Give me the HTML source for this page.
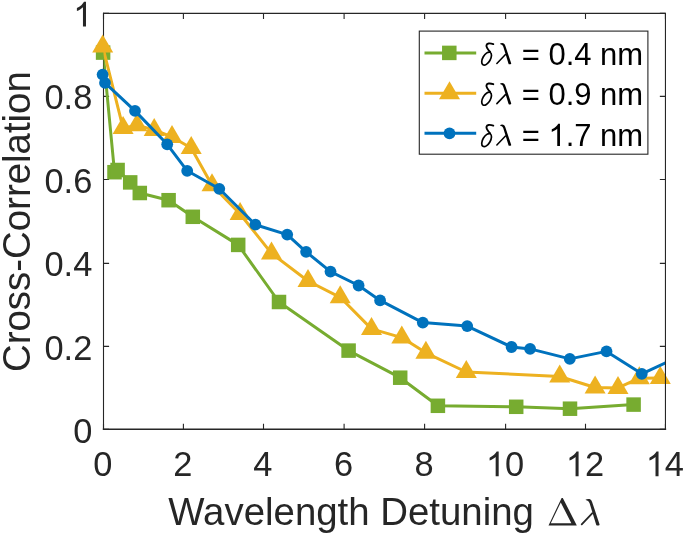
<!DOCTYPE html>
<html><head><meta charset="utf-8"><style>
html,body{margin:0;padding:0;background:#fff;overflow:hidden;}
svg{display:block;will-change:transform;filter:blur(0.3px);}
</style></head><body>
<svg width="685" height="536" viewBox="0 0 685 536" font-family="Liberation Sans, sans-serif">
<rect width="685" height="536" fill="#fff"/>
<defs><clipPath id="c"><rect x="103.5" y="13.4" width="561.95" height="415.9"/></clipPath></defs>
<path d="M103.5,429.3v-5.6M183.4,429.3v-5.6M263.5,429.3v-5.6M344.1,429.3v-5.6M424.6,429.3v-5.6M505.6,429.3v-5.6M585.5,429.3v-5.6M665.45,429.3v-5.6M103.5,429.3h5.6M103.5,346.4h5.6M103.5,263.4h5.6M103.5,179.5h5.6M103.5,96.4h5.6M103.5,13.4h5.6" stroke="#262626" stroke-width="1.1" fill="none"/><path d="M103.5,13.4V429.3" stroke="#262626" stroke-width="1.1" fill="none" stroke-linecap="square"/><path d="M103.5,429.3H665.45" stroke="#262626" stroke-width="1.4" fill="none" stroke-linecap="square"/>
<polyline clip-path="url(#c)" fill="none" stroke-width="3.0" stroke-linejoin="round" points="103.1,52.6 114.5,172.2 117.6,170 130.2,182.4 139.8,193 168.6,200.2 192.8,216.8 238.2,244.9 279,302 348.6,350.6 400.2,377.7 437.9,405.8 516.2,406.8 570,408.7 633.6,404.6" stroke="#77AC30"/>
<rect x="95.85" y="45.35" width="14.5" height="14.5" fill="#77AC30"/>
<rect x="107.25" y="164.95" width="14.5" height="14.5" fill="#77AC30"/>
<rect x="110.35" y="162.75" width="14.5" height="14.5" fill="#77AC30"/>
<rect x="122.95" y="175.15" width="14.5" height="14.5" fill="#77AC30"/>
<rect x="132.55" y="185.75" width="14.5" height="14.5" fill="#77AC30"/>
<rect x="161.35" y="192.95" width="14.5" height="14.5" fill="#77AC30"/>
<rect x="185.55" y="209.55" width="14.5" height="14.5" fill="#77AC30"/>
<rect x="230.95" y="237.65" width="14.5" height="14.5" fill="#77AC30"/>
<rect x="271.75" y="294.75" width="14.5" height="14.5" fill="#77AC30"/>
<rect x="341.35" y="343.35" width="14.5" height="14.5" fill="#77AC30"/>
<rect x="392.95" y="370.45" width="14.5" height="14.5" fill="#77AC30"/>
<rect x="430.65" y="398.55" width="14.5" height="14.5" fill="#77AC30"/>
<rect x="508.95" y="399.55" width="14.5" height="14.5" fill="#77AC30"/>
<rect x="562.75" y="401.45" width="14.5" height="14.5" fill="#77AC30"/>
<rect x="626.35" y="397.35" width="14.5" height="14.5" fill="#77AC30"/>
<polyline clip-path="url(#c)" fill="none" stroke-width="3.0" stroke-linejoin="round" points="102.7,46.6 123.1,128.1 137,125.2 154.2,129.9 172,137 191.2,148 212,185.3 240.1,214 271.5,253.4 308,281 340.2,297.3 371.5,328.9 401.8,337.6 425.9,352.8 466.3,372 559.7,376.5 595.1,387.5 618,387.9 639.3,378.2 660.3,378" stroke="#EDB120"/>
<polygon points="102.7,34.6 92.2,52.6 113.2,52.6" fill="#EDB120"/>
<polygon points="123.1,116.1 112.6,134.1 133.6,134.1" fill="#EDB120"/>
<polygon points="137,113.2 126.5,131.2 147.5,131.2" fill="#EDB120"/>
<polygon points="154.2,117.9 143.7,135.9 164.7,135.9" fill="#EDB120"/>
<polygon points="172,125 161.5,143 182.5,143" fill="#EDB120"/>
<polygon points="191.2,136 180.7,154 201.7,154" fill="#EDB120"/>
<polygon points="212,173.3 201.5,191.3 222.5,191.3" fill="#EDB120"/>
<polygon points="240.1,202 229.6,220 250.6,220" fill="#EDB120"/>
<polygon points="271.5,241.4 261,259.4 282,259.4" fill="#EDB120"/>
<polygon points="308,269 297.5,287 318.5,287" fill="#EDB120"/>
<polygon points="340.2,285.3 329.7,303.3 350.7,303.3" fill="#EDB120"/>
<polygon points="371.5,316.9 361,334.9 382,334.9" fill="#EDB120"/>
<polygon points="401.8,325.6 391.3,343.6 412.3,343.6" fill="#EDB120"/>
<polygon points="425.9,340.8 415.4,358.8 436.4,358.8" fill="#EDB120"/>
<polygon points="466.3,360 455.8,378 476.8,378" fill="#EDB120"/>
<polygon points="559.7,364.5 549.2,382.5 570.2,382.5" fill="#EDB120"/>
<polygon points="595.1,375.5 584.6,393.5 605.6,393.5" fill="#EDB120"/>
<polygon points="618,375.9 607.5,393.9 628.5,393.9" fill="#EDB120"/>
<polygon points="639.3,366.2 628.8,384.2 649.8,384.2" fill="#EDB120"/>
<polygon points="660.3,366 649.8,384 670.8,384" fill="#EDB120"/>
<polyline clip-path="url(#c)" fill="none" stroke-width="3.0" stroke-linejoin="round" points="102.6,74.6 105,82.9 135,110.9 167.2,144.3 187.2,170.8 219.3,188.8 255.4,224.7 287.2,234.6 306.1,251.8 330.5,271.6 358.6,285.5 380.1,300.4 422.8,322.6 467.2,326.1 511.6,347 530.1,348.9 569.8,358.9 606.5,351.4 641.8,373.8 690,351.6" stroke="#0072BD"/>
<circle cx="102.6" cy="74.6" r="5.9" fill="#0072BD"/>
<circle cx="105" cy="82.9" r="5.9" fill="#0072BD"/>
<circle cx="135" cy="110.9" r="5.9" fill="#0072BD"/>
<circle cx="167.2" cy="144.3" r="5.9" fill="#0072BD"/>
<circle cx="187.2" cy="170.8" r="5.9" fill="#0072BD"/>
<circle cx="219.3" cy="188.8" r="5.9" fill="#0072BD"/>
<circle cx="255.4" cy="224.7" r="5.9" fill="#0072BD"/>
<circle cx="287.2" cy="234.6" r="5.9" fill="#0072BD"/>
<circle cx="306.1" cy="251.8" r="5.9" fill="#0072BD"/>
<circle cx="330.5" cy="271.6" r="5.9" fill="#0072BD"/>
<circle cx="358.6" cy="285.5" r="5.9" fill="#0072BD"/>
<circle cx="380.1" cy="300.4" r="5.9" fill="#0072BD"/>
<circle cx="422.8" cy="322.6" r="5.9" fill="#0072BD"/>
<circle cx="467.2" cy="326.1" r="5.9" fill="#0072BD"/>
<circle cx="511.6" cy="347" r="5.9" fill="#0072BD"/>
<circle cx="530.1" cy="348.9" r="5.9" fill="#0072BD"/>
<circle cx="569.8" cy="358.9" r="5.9" fill="#0072BD"/>
<circle cx="606.5" cy="351.4" r="5.9" fill="#0072BD"/>
<circle cx="641.8" cy="373.8" r="5.9" fill="#0072BD"/>
<path d="M103.5,13.4v5.6M183.4,13.4v5.6M263.5,13.4v5.6M344.1,13.4v5.6M424.6,13.4v5.6M505.6,13.4v5.6M585.5,13.4v5.6M665.45,13.4v5.6M665.45,429.3h-5.6M665.45,346.4h-5.6M665.45,263.4h-5.6M665.45,179.5h-5.6M665.45,96.4h-5.6M665.45,13.4h-5.6" stroke="#262626" stroke-width="1.1" fill="none"/><path d="M103.5,13.4H665.45V429.3" stroke="#262626" stroke-width="1.1" fill="none" stroke-linecap="square"/>
<text x="93.33" y="476.2" font-size="34.4" fill="#262626">0</text>
<text x="173.23" y="476.2" font-size="34.4" fill="#262626">2</text>
<text x="253.33" y="476.2" font-size="34.4" fill="#262626">4</text>
<text x="333.93" y="476.2" font-size="34.4" fill="#262626">6</text>
<text x="414.43" y="476.2" font-size="34.4" fill="#262626">8</text>
<path transform="translate(485.87,476.2) scale(0.01680,-0.01680)" d="M763,0L583,0L583,1147Q518,1085 412,1023Q306,961 222,930L222,1104Q373,1175 486,1276Q599,1377 646,1472L763,1472Z" fill="#262626"/>
<text x="505" y="476.2" font-size="34.4" fill="#262626">0</text>
<path transform="translate(565.77,476.2) scale(0.01680,-0.01680)" d="M763,0L583,0L583,1147Q518,1085 412,1023Q306,961 222,930L222,1104Q373,1175 486,1276Q599,1377 646,1472L763,1472Z" fill="#262626"/>
<text x="584.9" y="476.2" font-size="34.4" fill="#262626">2</text>
<path transform="translate(645.72,476.2) scale(0.01680,-0.01680)" d="M763,0L583,0L583,1147Q518,1085 412,1023Q306,961 222,930L222,1104Q373,1175 486,1276Q599,1377 646,1472L763,1472Z" fill="#262626"/>
<text x="664.85" y="476.2" font-size="34.4" fill="#262626">4</text>
<text x="73.17" y="443" font-size="34.4" fill="#262626">0</text>
<text x="44.48" y="359.7" font-size="34.4" fill="#262626">0.2</text>
<text x="44.48" y="275.7" font-size="34.4" fill="#262626">0.4</text>
<text x="44.48" y="192.8" font-size="34.4" fill="#262626">0.6</text>
<text x="44.48" y="108.7" font-size="34.4" fill="#262626">0.8</text>
<path transform="translate(73.17,26.6) scale(0.01680,-0.01680)" d="M763,0L583,0L583,1147Q518,1085 412,1023Q306,961 222,930L222,1104Q373,1175 486,1276Q599,1377 646,1472L763,1472Z" fill="#262626"/>
<text x="168.3" y="525" font-size="38.4" fill="#262626">Wavelength Detuning</text>
<path fill-rule="evenodd" fill="#262626" d="M548.5,525.5L561.6,497.9L562.8,497.9L576.8,525.5ZM550.8,523.2L571.35,523.2L560.75,502.5Z"/>
<path d="M585.5,499.7Q587.4,498.5 589.6,499.1Q591.4,499.8 592.1,501.9L599.6,524.4Q599.6,525.4 598.4,525.4L596.9,525.4Q596.4,525.3 596.2,524.7L589.6,503.3Q588.9,501.2 587.1,500.6Q586.1,500.3 585.5,499.7Z" fill="#262626"/><path d="M592.4,513.2L581.7,524.4" stroke="#262626" stroke-width="1.8" stroke-linecap="round" fill="none"/>
<text transform="translate(29.8,372) rotate(-90)" font-size="38.4" fill="#262626">Cross-Correlation</text>
<rect x="419.3" y="31.1" width="228.6" height="123.1" fill="#fff" stroke="#262626" stroke-width="1.1"/>
<line x1="424.5" y1="52.9" x2="476.2" y2="52.9" stroke="#77AC30" stroke-width="3.0"/>
<rect x="442.05" y="45.65" width="14.5" height="14.5" fill="#77AC30"/>
<g transform="translate(0,0)" fill="none" stroke="#000" stroke-linecap="round"><ellipse cx="486.6" cy="58.6" rx="3.8" ry="7.2" transform="rotate(30 486.6 58.6)" stroke-width="1.7"/><path d="M490.2,51.8C488,49.6 486,47.5 486.5,45.2C487,43.3 489.5,42.8 493.3,44.1" stroke-width="1.9"/></g><g transform="translate(0,0) matrix(0.804,0,0,0.804,29.18,-358.1)"><path d="M585.5,499.7Q587.4,498.5 589.6,499.1Q591.4,499.8 592.1,501.9L599.6,524.4Q599.6,525.4 598.4,525.4L596.9,525.4Q596.4,525.3 596.2,524.7L589.6,503.3Q588.9,501.2 587.1,500.6Q586.1,500.3 585.5,499.7Z" fill="#000"/><path d="M592.4,513.2L581.7,524.4" stroke="#000" stroke-width="1.9" stroke-linecap="round" fill="none"/></g>
<text x="521.7" y="64.5" font-size="31" fill="#000">= 0.4 nm</text>
<line x1="424.5" y1="93.3" x2="476.2" y2="93.3" stroke="#EDB120" stroke-width="3.0"/>
<polygon points="449.5,81.3 439,99.3 460,99.3" fill="#EDB120"/>
<g transform="translate(0,40.1)" fill="none" stroke="#000" stroke-linecap="round"><ellipse cx="486.6" cy="58.6" rx="3.8" ry="7.2" transform="rotate(30 486.6 58.6)" stroke-width="1.7"/><path d="M490.2,51.8C488,49.6 486,47.5 486.5,45.2C487,43.3 489.5,42.8 493.3,44.1" stroke-width="1.9"/></g><g transform="translate(0,40.1) matrix(0.804,0,0,0.804,29.18,-358.1)"><path d="M585.5,499.7Q587.4,498.5 589.6,499.1Q591.4,499.8 592.1,501.9L599.6,524.4Q599.6,525.4 598.4,525.4L596.9,525.4Q596.4,525.3 596.2,524.7L589.6,503.3Q588.9,501.2 587.1,500.6Q586.1,500.3 585.5,499.7Z" fill="#000"/><path d="M592.4,513.2L581.7,524.4" stroke="#000" stroke-width="1.9" stroke-linecap="round" fill="none"/></g>
<text x="521.7" y="104.6" font-size="31" fill="#000">= 0.9 nm</text>
<line x1="424.5" y1="133.3" x2="476.2" y2="133.3" stroke="#0072BD" stroke-width="3.0"/>
<circle cx="449.5" cy="133.3" r="5.9" fill="#0072BD"/>
<g transform="translate(0,81.5)" fill="none" stroke="#000" stroke-linecap="round"><ellipse cx="486.6" cy="58.6" rx="3.8" ry="7.2" transform="rotate(30 486.6 58.6)" stroke-width="1.7"/><path d="M490.2,51.8C488,49.6 486,47.5 486.5,45.2C487,43.3 489.5,42.8 493.3,44.1" stroke-width="1.9"/></g><g transform="translate(0,81.5) matrix(0.804,0,0,0.804,29.18,-358.1)"><path d="M585.5,499.7Q587.4,498.5 589.6,499.1Q591.4,499.8 592.1,501.9L599.6,524.4Q599.6,525.4 598.4,525.4L596.9,525.4Q596.4,525.3 596.2,524.7L589.6,503.3Q588.9,501.2 587.1,500.6Q586.1,500.3 585.5,499.7Z" fill="#000"/><path d="M592.4,513.2L581.7,524.4" stroke="#000" stroke-width="1.9" stroke-linecap="round" fill="none"/></g>
<text x="521.7" y="146" font-size="31" fill="#000">= </text>
<path transform="translate(548.42,146) scale(0.01514,-0.01514)" d="M763,0L583,0L583,1147Q518,1085 412,1023Q306,961 222,930L222,1104Q373,1175 486,1276Q599,1377 646,1472L763,1472Z" fill="#000"/>
<text x="565.66" y="146" font-size="31" fill="#000">.7 nm</text>
</svg>
</body></html>
